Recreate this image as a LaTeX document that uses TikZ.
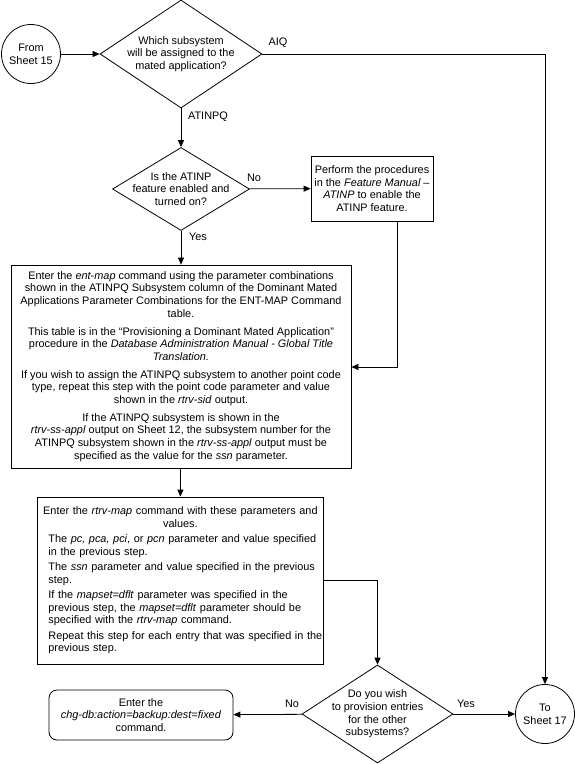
\documentclass[tikz,border=0pt]{standalone}
\usepackage{fontspec}
\setmainfont{Liberation Sans}
\usetikzlibrary{shapes.geometric, arrows.meta}

\begin{document}
\begin{tikzpicture}[x=1pt, y=-1pt, line width=0.8pt, >={Triangle[length=7pt,width=6pt]},
  every node/.style={font=\fontsize{10.9}{12.7}\selectfont, inner sep=0pt},
  sheet/.style={draw, circle, minimum size=59, align=center},
  dia/.style={draw, diamond},
  proc/.style={draw, align=center}]
\useasboundingbox (0,0) rectangle (575,764);

% connectors to other sheets
\node[sheet] (c15) at (31,54) {From\\Sheet 15};
\node[sheet] (c17) at (545,714) {To\\Sheet 17};

% decisions
\node[dia, minimum width=162, minimum height=108] (d1) at (181,54) {};
\node[align=center] (d1t) at (d1) {Which subsystem\\will be assigned to the\\mated application?};
\node[dia, minimum width=137, minimum height=83] (d2) at (181,189) {};
\node[align=center] (d2t) at (d2) {Is the ATINP\\feature enabled and\\turned on?};
\node[dia, minimum width=151, minimum height=98] (d3) at (377.5,714) {};
\node[align=center] (d3t) at (d3) {Do you wish\\to provision entries\\for the other\\subsystems?};

% process boxes
\node[proc, minimum width=122, minimum height=65] (b1) at (372,188.5)
  {Perform the procedures\\in the \textit{Feature Manual –}\\\textit{ATINP} to enable the\\ATINP feature.};
\node[proc, minimum width=340, minimum height=203] (b2) at (181,366.5)
  {Enter the \textit{ent-map} command using the parameter combinations\\
   shown in the ATINPQ Subsystem column of the Dominant Mated\\
   Applications Parameter Combinations for the ENT-MAP Command\\
   table.\\[5pt]
   This table is in the “Provisioning a Dominant Mated Application”\\
   procedure in the \textit{Database Administration Manual - Global Title}\\
   \textit{Translation.}\\[5pt]
   If you wish to assign the ATINPQ subsystem to another point code\\
   type, repeat this step with the point code parameter and value\\
   shown in the \textit{rtrv-sid} output.\\[5pt]
   If the ATINPQ subsystem is shown in the\\
   \textit{rtrv-ss-appl} output on Sheet 12, the subsystem number for the\\
   ATINPQ subsystem shown in the \textit{rtrv-ss-appl} output must be\\
   specified as the value for the \textit{ssn} parameter.};
\node[draw, minimum width=286, minimum height=167] (b3) at (180,580.5) {};
\node[align=left, text width=290, anchor=west] (b3t) at (48,580.5)
  {\makebox[264pt]{Enter the \textit{rtrv-map} command with these parameters and}\\
   \makebox[264pt]{values.}\\[2.5pt]
   The \textit{pc, pca, pci}, or \textit{pcn} parameter and value specified\\
   in the previous step.\\[2.5pt]
   The \textit{ssn} parameter and value specified in the previous\\
   step.\\[2.5pt]
   If the \textit{mapset=dflt} parameter was specified in the\\
   previous step, the \textit{mapset=dflt} parameter should be\\
   specified with the \textit{rtrv-map} command.\\[2.5pt]
   Repeat this step for each entry that was specified in the\\
   previous step.};
\node[proc, rounded corners=8pt, minimum width=184, minimum height=50] (b4) at (141,715)
  {Enter the\\\textit{chg-db:action=backup:dest=fixed}\\command.};

% branch labels
\node (aiq) at (278,43) {AIQ};
\node (atinpq) at (208,117) {ATINPQ};
\node (no1) at (254,178) {No};
\node (yes1) at (198,237) {Yes};
\node (no2) at (292,704) {No};
\node (yes2) at (466,704) {Yes};

% flow
\coordinate (bend1) at (397,367);
\draw[->] (c15) -- (d1);
\draw[->] (d1.east) -| (c17.north);
\draw[->] (d1) -- (d2);
\draw[->] (d2) -- (b1);
\draw[->] (d2) -- (b2);
\draw[->] (b1.south -| bend1) -- (bend1) -- (b2.east |- bend1);
\draw[->] (b2) -- (b3);
\draw[->] (b3.east) -| (d3.north);
\draw[->] (d3) -- (b4);
\draw[->] (d3) -- (c17);
\end{tikzpicture}
\end{document}
